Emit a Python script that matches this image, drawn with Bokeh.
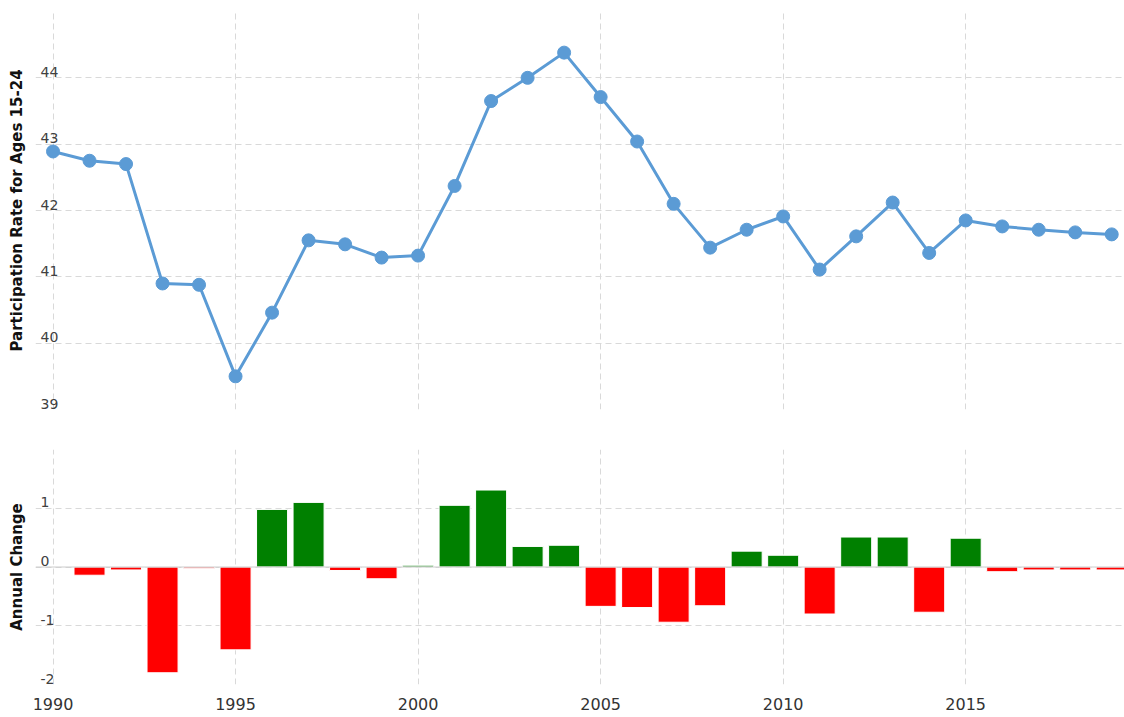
from bokeh.plotting import figure
from bokeh.layouts import column
from bokeh.models import ColumnDataSource, FixedTicker, Range1d, Span, LinearAxis
from bokeh.core.properties import value
from bokeh.embed import file_html
from bokeh.resources import INLINE

# ---- data ----
years = list(range(1990, 2020))
rate = [42.89, 42.75, 42.70, 40.90, 40.88, 39.50, 40.46, 41.55, 41.49, 41.29,
        41.32, 42.37, 43.65, 44.00, 44.38, 43.71, 43.04, 42.10, 41.44, 41.71,
        41.91, 41.11, 41.61, 42.12, 41.36, 41.85, 41.76, 41.71, 41.67, 41.64]

change_years = list(range(1991, 2020))
change = [-0.14, -0.05, -1.80, -0.02, -1.41, 0.98, 1.10, -0.06, -0.20, 0.03,
          1.05, 1.31, 0.35, 0.37, -0.67, -0.69, -0.94, -0.66, 0.27, 0.20,
          -0.80, 0.51, 0.51, -0.77, 0.49, -0.08, -0.05, -0.05, -0.05]

x_ticks = [1990, 1995, 2000, 2005, 2010, 2015]
top_grid = [39, 40, 41, 42, 43, 44, 45]
top_labels = ["39", "40", "41", "42", "43", "44"]
top_label_vals = [39, 40, 41, 42, 43, 44]
bot_grid = [-2, -1, 0, 1, 2]
bot_labels = ["-2", "-1", "0", "1"]
bot_label_vals = [-2, -1, 0, 1]

XMIN, XMAX = 1989.52, 2019.35
FONT = "DejaVu Sans"
LINE_COLOR = "#5b9bd5"
GRID_COLOR = "#d9d9d9"

x_range = Range1d(XMIN, XMAX)


def style_grids(p, yticks):
    p.xgrid.ticker = FixedTicker(ticks=x_ticks)
    p.ygrid.ticker = FixedTicker(ticks=yticks)
    for g in (p.xgrid, p.ygrid):
        g.grid_line_color = GRID_COLOR
        g.grid_line_dash = "6 4"
        g.grid_line_width = 1
    p.outline_line_color = None
    p.background_fill_color = "white"
    p.border_fill_color = "white"


def title_axis(label):
    return LinearAxis(ticker=FixedTicker(ticks=[]), axis_label=label,
                      axis_line_color=None, major_tick_line_color=None,
                      minor_tick_line_color=None, axis_label_standoff=10,
                      axis_label_text_font=FONT, axis_label_text_font_style="bold",
                      axis_label_text_font_size="15px", axis_label_text_color="#111111")


# ---- top chart ----
top = figure(width=1124, height=429, x_range=x_range, y_range=Range1d(39, 45),
             output_backend="svg", toolbar_location=None, tools="",
             min_border_left=35, min_border_right=0, min_border_top=11,
             min_border_bottom=20, x_axis_location=None, y_axis_location=None)
style_grids(top, top_grid)
top.add_layout(title_axis("Participation Rate for Ages 15-24"), "left")

src = ColumnDataSource(dict(x=years, y=rate))
top.line("x", "y", source=src, line_color=LINE_COLOR, line_width=3)
top.scatter("x", "y", source=src, size=13, fill_color=LINE_COLOR, line_color=LINE_COLOR)

top.text(x=[XMIN] * len(top_labels), y=top_label_vals, text=top_labels,
         x_offset=5, y_offset=-6, text_baseline="middle", text_align="left",
         text_font=value(FONT), text_font_size="14px", text_color="#404040")

# ---- bottom chart ----
bot = figure(width=1124, height=288, x_range=x_range, y_range=Range1d(-2, 2),
             output_backend="svg", toolbar_location=None, tools="",
             min_border_left=35, min_border_right=0, min_border_top=20,
             min_border_bottom=33, y_axis_location=None)
style_grids(bot, bot_grid)
bot.add_layout(title_axis("Annual Change"), "left")

xa = bot.xaxis[0]
xa.ticker = FixedTicker(ticks=x_ticks)
xa.axis_line_color = None
xa.major_tick_line_color = None
xa.minor_tick_line_color = None
xa.major_tick_out = 0
xa.major_tick_in = 0
xa.major_label_standoff = 13
xa.major_label_text_font = FONT
xa.major_label_text_font_size = "16px"
xa.major_label_text_color = "#333333"

bot.add_layout(Span(location=0, dimension="width", line_color="#cccccc", line_width=1))

colors = ["#008000" if v >= 0 else "#ff0000" for v in change]
bsrc = ColumnDataSource(dict(x=change_years, top=change, color=colors))
bot.vbar(x="x", top="top", bottom=0, width=0.85, source=bsrc,
         fill_color="color", line_color="white", line_width=1)

bot.text(x=[XMIN] * len(bot_labels), y=bot_label_vals, text=bot_labels,
         x_offset=5, y_offset=-6, text_baseline="middle", text_align="left",
         text_font=value(FONT), text_font_size="14px", text_color="#404040")

layout = column(top, bot, spacing=0)
open("out.html", "w").write(file_html(layout, INLINE))
